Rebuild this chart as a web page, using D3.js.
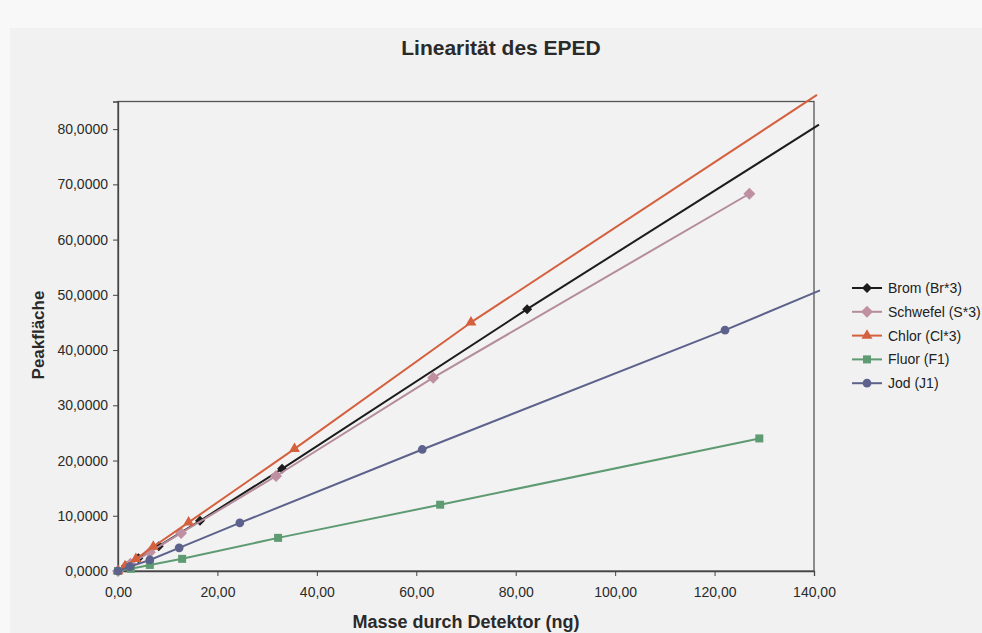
<!DOCTYPE html>
<html><head><meta charset="utf-8">
<script src="https://cdn.jsdelivr.net/npm/d3@7"></script>
<style>
html,body{margin:0;padding:0;background:#f8f8f8;}
svg{display:block;font-family:"Liberation Sans",Arial,sans-serif;}
</style></head>
<body>
<svg id="c" width="982" height="633"></svg>
<script>
// Data (x: ng, y: peak area)
const seriesNames = ["Brom (Br*3)", "Schwefel (S*3)", "Chlor (Cl*3)", "Fluor (F1)", "Jod (J1)"];
const bromX = [1.6, 4.1, 8.2, 16.5, 33.0, 82.3];
const bromY = [0.9, 2.3, 4.5, 9.1, 18.5, 47.4];
const schwefelX = [2.5, 6.4, 12.7, 31.8, 63.4, 127.0];
const schwefelY = [1.3, 3.4, 6.9, 17.2, 35.0, 68.3];
const chlorX = [1.4, 3.6, 7.1, 14.2, 35.5, 71.0];
const chlorY = [0.9, 2.2, 4.4, 8.8, 22.1, 45.0];
const fluorX = [2.6, 6.4, 12.9, 32.2, 64.8, 129.0];
const fluorY = [0.4, 1.1, 2.2, 6.0, 12.0, 24.0];
const jodX = [2.4, 6.4, 12.3, 24.5, 61.2, 122.1];
const jodY = [0.8, 2.0, 4.2, 8.7, 22.0, 43.6];
// trend-line extensions: [x, y] end points
const bromTrendEnd = [141.0, 80.8];
const chlorTrendEnd = [140.6, 86.2];
const jodTrendEnd = [141.2, 50.8];
const xTicks = [0, 20, 40, 60, 80, 100, 120, 140];
const yTicks = [0, 10, 20, 30, 40, 50, 60, 70, 80];

const svg = d3.select("#c");
svg.append("rect").attr("x",10).attr("y",28).attr("width",972).attr("height",605).attr("fill","#f1f1f1");

const x = d3.scaleLinear().domain([0,140]).range([118,814]);
const y = d3.scaleLinear().domain([0,85]).range([571,101.5]);

const fmtX = d => d.toFixed(2).replace(".", ",");
const fmtY = d => d.toFixed(4).replace(".", ",");

svg.append("rect").attr("x",x(0)).attr("y",y(85)).attr("width",x(140)-x(0)).attr("height",y(0)-y(85))
  .attr("fill","#f2f2f2").attr("stroke","#555").attr("stroke-width",1.3);

const xAxis = svg.append("g").attr("transform",`translate(0,${y(0)})`)
  .call(d3.axisBottom(x).tickValues(xTicks).tickFormat(fmtX).tickSize(5).tickPadding(11));
const yAxis = svg.append("g").attr("transform",`translate(${x(0)},0)`)
  .call(d3.axisLeft(y).tickValues(yTicks).tickFormat(fmtY).tickSize(5).tickPadding(5));
[xAxis,yAxis].forEach(a=>{
  a.selectAll("path").attr("stroke","#444").attr("stroke-width",1.3);
  a.selectAll("line").attr("stroke","#444");
  a.selectAll("text").attr("font-size","14px").attr("fill","#2a2a2a").attr("font-family","Liberation Sans, Arial, sans-serif");
});

const diamond = r => `M0,${-r}L${r},0L0,${r}L${-r},0Z`;
const series = [
  {name:seriesNames[0], xs:bromX, ys:bromY, color:"#1c1c1c", mcolor:"#1c1c1c", d: diamond(5)},
  {name:seriesNames[1], xs:schwefelX, ys:schwefelY, color:"#b48c9c", mcolor:"#bf8fa2", d: diamond(6)},
  {name:seriesNames[2], xs:chlorX, ys:chlorY, color:"#d4603e", mcolor:"#d4603e", d: d3.symbol().type(d3.symbolTriangle).size(52)()},
  {name:seriesNames[3], xs:fluorX, ys:fluorY, color:"#5e9a72", mcolor:"#5e9a72", d: d3.symbol().type(d3.symbolSquare).size(64)()},
  {name:seriesNames[4], xs:jodX, ys:jodY, color:"#5d628c", mcolor:"#5d628c", d: d3.symbol().type(d3.symbolCircle).size(60)()}
];
series[0].trend = bromTrendEnd; series[2].trend = chlorTrendEnd; series[4].trend = jodTrendEnd;
const line = d3.line().x(d=>x(d[0])).y(d=>y(d[1]));

series.forEach(s=>{
  const pts = s.xs.map((v,i)=>[v, s.ys[i]]);
  pts.unshift([0,0]);
  svg.append("path").attr("d", line(pts)).attr("fill","none").attr("stroke",s.color).attr("stroke-width",2);
  if (s.trend) {
    svg.append("path").attr("d", line([pts[pts.length-1], s.trend])).attr("fill","none").attr("stroke",s.color).attr("stroke-width",2);
  }
  svg.append("g").selectAll("path").data(pts).join("path")
    .attr("transform", d=>`translate(${x(d[0])},${y(d[1])})`)
    .attr("d", s.d).attr("fill", s.mcolor);
});

const lg = svg.append("g");
series.forEach((s,i)=>{
  const ly = 288 + i*23.8;
  lg.append("line").attr("x1",852).attr("x2",882).attr("y1",ly).attr("y2",ly).attr("stroke",s.color).attr("stroke-width",2);
  lg.append("path").attr("transform",`translate(867,${ly})`).attr("d", s.d).attr("fill",s.mcolor);
  lg.append("text").attr("x",888).attr("y",ly+5).attr("font-size","14px").attr("fill","#222").text(s.name);
});

svg.append("text").attr("x",501).attr("y",55).attr("text-anchor","middle").attr("font-size","21px").attr("font-weight","bold").attr("fill","#2a2a2a").text("Linearität des EPED");
svg.append("text").attr("x",466).attr("y",628).attr("text-anchor","middle").attr("font-size","18px").attr("font-weight","bold").attr("fill","#2a2a2a").text("Masse durch Detektor (ng)");
svg.append("text").attr("transform","translate(44,335) rotate(-90)").attr("text-anchor","middle").attr("font-size","17px").attr("font-weight","bold").attr("fill","#2a2a2a").text("Peakfläche");
</script>
</body></html>
